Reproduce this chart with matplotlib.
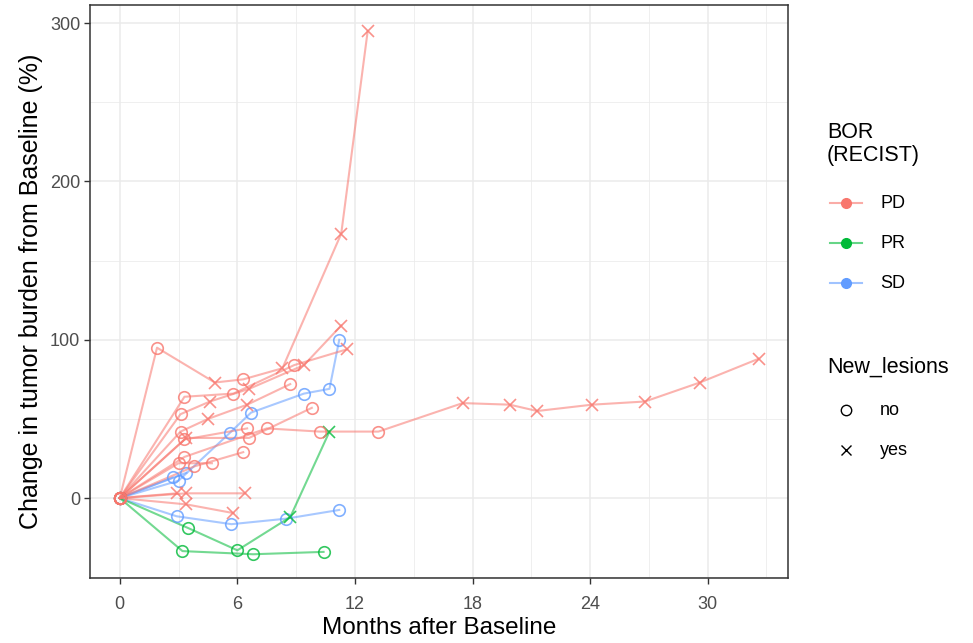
import matplotlib
matplotlib.use("Agg")
import matplotlib.pyplot as plt
from matplotlib.lines import Line2D

plt.rcParams['font.family'] = ['Liberation Sans', 'DejaVu Sans']

bor_levels = ["PD", "PR", "SD"]
bor_colors = {"PD": "#F8766D", "PR": "#00BA38", "SD": "#619CFF"}

# one list per patient: months after baseline, % change, new lesions (1 = yes)
pd_months = [
    [0, 1.9, 4.85, 6.3, 8.3, 11.3, 12.65],
    [0, 3.3, 5.8, 8.9, 11.6],
    [0, 3.1, 4.6, 6.6, 9.4, 11.3],
    [0, 3.1, 4.5, 6.5, 8.7],
    [0, 3.4, 6.6, 9.8],
    [0, 3.3, 6.5],
    [0, 3.3, 7.5, 10.2, 13.2, 17.5, 19.9, 21.3, 24.1, 26.8, 29.6, 32.6],
    [0, 3.8, 6.3],
    [0, 3.0, 4.7],
    [0, 3.4, 6.4],
    [0, 2.9],
    [0, 3.4, 5.8],
]
pd_change = [
    [0, 95, 73, 75, 82, 167, 295],
    [0, 64, 66, 84, 94],
    [0, 53, 61, 69, 84, 109],
    [0, 42, 50, 59, 72],
    [0, 38, 38, 57],
    [0, 37, 44],
    [0, 26, 44, 42, 42, 60, 59, 55, 59, 61, 73, 88],
    [0, 20, 29],
    [0, 22, 22],
    [0, 3, 3],
    [0, 3],
    [0, -4, -9.5],
]
pd_new = [
    [0, 0, 1, 0, 1, 1, 1],
    [0, 0, 0, 0, 1],
    [0, 0, 1, 1, 1, 1],
    [0, 0, 1, 1, 0],
    [0, 1, 0, 0],
    [0, 0, 0],
    [0, 0, 0, 0, 0, 1, 1, 1, 1, 1, 1, 1],
    [0, 0, 0],
    [0, 0, 0],
    [0, 1, 1],
    [0, 1],
    [0, 1, 1],
]

pr_months = [
    [0, 3.2, 6.8, 10.4],
    [0, 3.5, 6.0, 8.7, 10.7],
]
pr_change = [
    [0, -33.5, -35.5, -34],
    [0, -19, -33, -12, 42],
]
pr_new = [
    [0, 0, 0, 0],
    [0, 0, 0, 1, 1],
]

sd_months = [
    [0, 3.0, 5.6, 6.7, 9.4, 10.7, 11.2],
    [0, 2.7],
    [0, 3.4],
    [0, 2.9, 5.7, 8.5, 11.2],
]
sd_change = [
    [0, 11, 41, 54, 66, 69, 100],
    [0, 13],
    [0, 16],
    [0, -11.5, -16.5, -13, -7.5],
]
sd_new = [
    [0, 0, 0, 0, 0, 0, 0],
    [0, 0],
    [0, 0],
    [0, 0, 0, 0, 0],
]

lesion_labels = ["no", "yes"]

groups = {
    "PD": (pd_months, pd_change, pd_new),
    "PR": (pr_months, pr_change, pr_new),
    "SD": (sd_months, sd_change, sd_new),
}

W, H = 973, 643
fig = plt.figure(figsize=(W / 100, H / 100), dpi=100)
ax = fig.add_axes([90 / W, 1 - 578 / H, (788 - 90) / W, (578 - 5) / H])


def fx(px):
    return px / W


def fy(py):
    return 1 - py / H


for bor in ["SD", "PR", "PD"]:
    col = bor_colors[bor]
    for m, c, n in zip(*groups[bor]):
        ax.plot(m, c, color=col, alpha=0.55, lw=1.5, zorder=2)
        mo = [x for x, f in zip(m, n) if f == 0]
        co = [y for y, f in zip(c, n) if f == 0]
        mx = [x for x, f in zip(m, n) if f == 1]
        cx = [y for y, f in zip(c, n) if f == 1]
        ax.plot(mo, co, ls="none", marker="o", ms=8.3, mfc="none", mec=col,
                mew=1.2, alpha=0.8, zorder=3)
        ax.plot(mx, cx, ls="none", marker="x", ms=8.8, mec=col,
                mew=1.2, alpha=0.8, zorder=3)

ax.set_xlim(-1.52, 34.1)
ax.set_ylim(-50.5, 311.5)
ax.set_xticks([0, 6, 12, 18, 24, 30])
ax.set_yticks([0, 100, 200, 300])
ax.set_xticks([3, 9, 15, 21, 27, 33], minor=True)
ax.set_yticks([-50, 50, 150, 250], minor=True)
ax.grid(True, which="major", color="#EBEBEB", lw=1.1)
ax.grid(True, which="minor", color="#EBEBEB", lw=0.55)
ax.set_axisbelow(True)
for s in ax.spines.values():
    s.set_color("#333333")
    s.set_linewidth(1.1)
ax.tick_params(which="major", length=4, color="#333333", labelsize=13,
               labelcolor="#4D4D4D", width=1.0)
ax.tick_params(axis="x", which="major", pad=9)
ax.tick_params(axis="y", which="major", pad=3)
ax.tick_params(which="minor", length=0)
ax.set_xlabel("Months after Baseline", fontsize=17.5, labelpad=3)
ax.set_ylabel("Change in tumor burden from Baseline (%)", fontsize=18,
              labelpad=5)

# legends drawn by hand so the spacing follows the reference
fig.text(fx(827), fy(133), "BOR", fontsize=15.5, va="center", ha="left")
fig.text(fx(827), fy(156), "(RECIST)", fontsize=15.5, va="center", ha="left")
for i, b in enumerate(bor_levels):
    yy = 203 + 40 * i
    fig.add_artist(Line2D([fx(830), fx(862)], [fy(yy), fy(yy)],
                          color=bor_colors[b], lw=1.5, alpha=0.6))
    fig.add_artist(Line2D([fx(846)], [fy(yy)], ls="none", marker="o", ms=7,
                          color=bor_colors[b]))
    fig.text(fx(880), fy(yy + 5), b, fontsize=13, va="baseline", ha="left")

fig.text(fx(827), fy(367), "New_lesions", fontsize=15.5, va="center",
         ha="left")
for i, (lab, mk) in enumerate(zip(lesion_labels, ["o", "x"])):
    yy = 410 + 40 * i
    fig.add_artist(Line2D([fx(846)], [fy(yy)], ls="none", marker=mk, ms=7.5,
                          mfc="none", mec="black", mew=1.0))
    fig.text(fx(880), fy(yy + 5), lab, fontsize=13, va="baseline", ha="left")

fig.savefig("out.png", dpi=100)
